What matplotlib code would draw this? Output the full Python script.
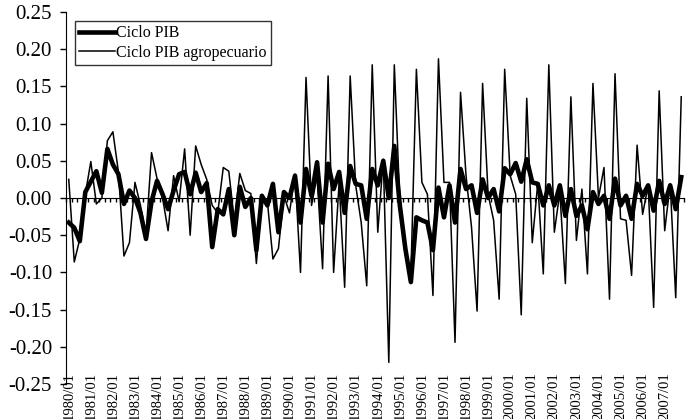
import matplotlib
matplotlib.use("Agg")
import matplotlib.pyplot as plt
import matplotlib.transforms as mtransforms

plt.rcParams['font.family'] = ['Liberation Serif', 'DejaVu Serif']

# quarterly cycles, 1980Q1 - 2007Q4
years = list(range(1980, 2008))
tick_labels = ["%d/01" % y for y in years]

ciclo_pib = [
    -0.033, -0.040, -0.058, 0.008, 0.022, 0.036, 0.007, 0.066,
    0.045, 0.032, -0.008, 0.010, 0.000, -0.020, -0.055, -0.005,
    0.023, 0.005, -0.015, 0.010, 0.032, 0.035, 0.005, 0.034,
    0.008, 0.020, -0.066, -0.015, -0.022, 0.012, -0.050, 0.015,
    -0.012, 0.000, -0.070, 0.003, -0.010, 0.019, -0.046, 0.008,
    0.000, 0.030, -0.033, 0.039, 0.003, 0.048, -0.033, 0.046,
    0.012, 0.035, -0.020, 0.043, 0.019, 0.017, -0.028, 0.039,
    0.017, 0.050, 0.000, 0.070, -0.010, -0.068, -0.113, -0.026,
    -0.030, -0.033, -0.070, 0.014, -0.026, 0.017, -0.033, 0.039,
    0.012, 0.017, -0.020, 0.025, 0.000, 0.012, -0.018, 0.040,
    0.032, 0.047, 0.022, 0.052, 0.021, 0.019, -0.010, 0.017,
    -0.010, 0.017, -0.024, 0.012, -0.024, -0.010, -0.042, 0.008,
    -0.008, 0.003, -0.028, 0.026, -0.010, 0.003, -0.028, 0.019,
    0.003, 0.017, -0.017, 0.023, -0.008, 0.017, -0.015, 0.028,
]

ciclo_agro = [
    0.025, -0.086, -0.055, 0.005, 0.049, -0.008, 0.000, 0.077,
    0.089, 0.035, -0.078, -0.060, 0.021, -0.010, -0.050, 0.061,
    0.026, 0.000, -0.044, 0.030, -0.005, 0.066, -0.050, 0.070,
    0.045, 0.025, -0.010, -0.020, 0.041, 0.036, -0.030, 0.033,
    0.010, 0.006, -0.088, 0.000, -0.005, -0.082, -0.068, 0.003,
    -0.020, 0.032, -0.100, 0.162, -0.010, 0.030, -0.095, 0.164,
    -0.100, 0.021, -0.120, 0.164, 0.017, -0.033, -0.118, 0.179,
    -0.046, 0.052, -0.221, 0.179, -0.005, -0.065, -0.105, 0.173,
    0.021, 0.005, -0.131, 0.187, 0.021, 0.021, -0.194, 0.142,
    0.030, -0.040, -0.152, 0.154, 0.005, -0.030, -0.136, 0.173,
    0.030, 0.005, -0.157, 0.134, -0.060, 0.020, -0.102, 0.179,
    -0.046, 0.008, -0.115, 0.136, -0.057, 0.012, -0.102, 0.154,
    0.000, 0.041, -0.136, 0.167, -0.028, -0.030, -0.104, 0.071,
    -0.022, 0.017, -0.147, 0.144, -0.044, 0.019, -0.134, 0.136,
]

n = len(ciclo_pib)
x = list(range(n))

fig = plt.figure(figsize=(6.88, 4.19), dpi=100)
ax = fig.add_axes([66 / 688, 35 / 419, 618 / 688, 372 / 419])

ax.plot(x, ciclo_pib, color="black", lw=3.3, label="Ciclo PIB")
ax.plot(x, ciclo_agro, color="black", lw=1.1, label="Ciclo PIB agropecuario")

ax.set_xlim(-0.5, n - 0.5)
ax.set_ylim(-0.25, 0.25)

# y axis
yt = [-0.25 + 0.05 * k for k in range(11)]
ax.set_yticks(yt)
ax.set_yticklabels(["%.2f" % v if abs(v) > 1e-9 else "0.00" for v in yt], fontsize=15)
ax.tick_params(axis="y", direction="out", length=4, width=1, pad=6)

# category axis crossing at zero
ax.spines["top"].set_visible(False)
ax.spines["right"].set_visible(False)
ax.spines["bottom"].set_position(("data", 0))
ax.set_xticks([k - 0.5 for k in range(n + 1)])
ax.set_xticklabels([])
ax.tick_params(axis="x", direction="out", length=3, width=1)

trans = mtransforms.blended_transform_factory(ax.transData, ax.transAxes)
for k, lab in enumerate(tick_labels):
    ax.text(4 * k, 0.032, lab, transform=trans, rotation=90,
            ha="center", va="top", fontsize=10.5)

leg = ax.legend(loc="upper left", bbox_to_anchor=(0.014, 0.977),
                borderaxespad=0, fancybox=False, edgecolor="black",
                fontsize=11.5, handlelength=2.2, handletextpad=0.1,
                labelspacing=0.2, borderpad=0.3)
leg.get_frame().set_linewidth(1)

fig.savefig("out.png", dpi=100)
